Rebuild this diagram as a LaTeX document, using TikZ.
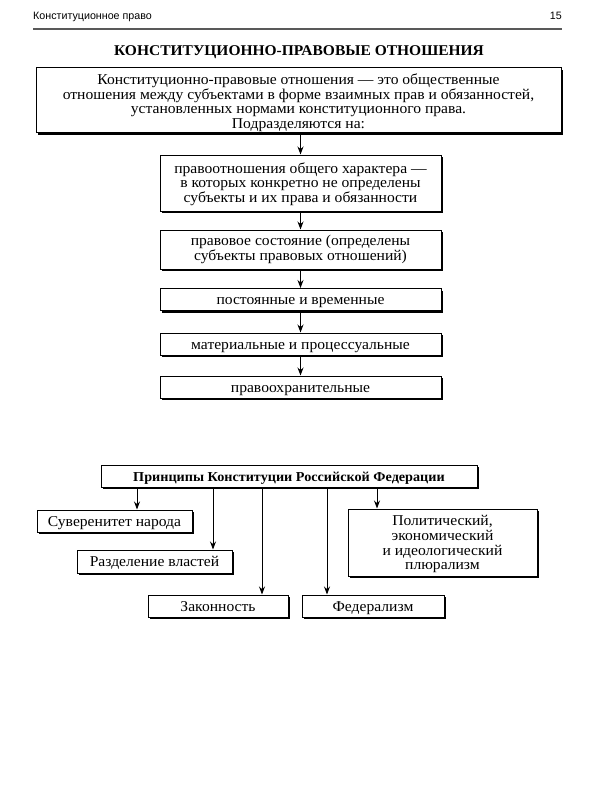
\documentclass[tikz,border=0pt]{standalone}
\usepackage{fontspec}
\setmainfont{Liberation Serif}[FakeStretch=1.04]
\newfontfamily\hdrfont{Liberation Sans}
\usetikzlibrary{arrows.meta,shadows}
\newcommand{\lines}[2]{\begin{tabular}{@{}c@{}}\rule{0pt}{#1}#2\end{tabular}}
\begin{document}
\begin{tikzpicture}[x=1pt,y=-1pt,
  box/.style={draw=black, line width=1pt, fill=white, inner sep=0pt, align=center,
    drop shadow={shadow xshift=2.2pt, shadow yshift=-2.2pt, opacity=1, fill=black},
    font=\fontsize{15}{14.5}\selectfont},
  one/.style={text height=10.5pt, text depth=0pt},
  arr/.style={-{Stealth[length=8pt,width=6pt]}, line width=1pt},
]
\useasboundingbox (0,0) rectangle (600,800);
\fill[white] (0,0) rectangle (600,800);
% header
\node[anchor=base west, inner sep=0pt, font=\hdrfont\fontsize{10.7}{12}\selectfont] (hdr) at (33,20) {Конституционное право};
\node[anchor=base east, inner sep=0pt, font=\hdrfont\fontsize{10.7}{12}\selectfont] (pg) at (562,20) {15};
\draw[line width=1.5pt, black!65] (33,29) -- (562,29);
\node[anchor=base, inner sep=0pt, font=\bfseries\fontsize{14.9}{16}\selectfont] (title) at (299,55.5) {КОНСТИТУЦИОННО-ПРАВОВЫЕ ОТНОШЕНИЯ};
% top chain
\node[box, minimum width=525pt, minimum height=64pt] (main) at (298.5,100)
  {\lines{16.5pt}{Конституционно-правовые отношения — это общественные\\
   отношения между субъектами в форме взаимных прав и обязанностей,\\
   установленных нормами конституционного права.\\
   Подразделяются на:}};
\node[box, minimum width=281pt, minimum height=56pt] (b1) at (300.5,183)
  {\lines{14.35pt}{правоотношения общего характера —\\ в которых конкретно не определены\\ субъекты и их права и обязанности}};
\node[box, minimum width=281pt, minimum height=39pt] (b2) at (300.5,249.5)
  {\lines{11.85pt}{правовое состояние (определены\\ субъекты правовых отношений)}};
\node[box, one, minimum width=281pt, minimum height=22pt] (b3) at (300.5,299.5)
  {постоянные и временные};
\node[box, one, minimum width=281pt, minimum height=22pt] (b4) at (300.5,344)
  {материальные и процессуальные};
\node[box, one, minimum width=281pt, minimum height=22pt] (b5) at (300.5,387)
  {правоохранительные};
\draw[arr] (b1.north |- main.south) -- (b1.north);
\draw[arr] (b1.south) -- (b2.north);
\draw[arr] (b2.south) -- (b3.north);
\draw[arr] (b3.south) -- (b4.north);
\draw[arr] (b4.south) -- (b5.north);
% principles
\node[box, one, minimum width=376pt, minimum height=22pt, font=\bfseries\fontsize{13.65}{15}\selectfont] (P) at (289,476)
  {Принципы Конституции Российской Федерации};
\node[box, one, minimum width=155pt, minimum height=22pt] (s1) at (114.5,521) {Суверенитет народа};
\node[box, one, minimum width=155pt, minimum height=23pt] (s2) at (154.5,561.5) {Разделение властей};
\node[box, one, minimum width=140pt, minimum height=22pt] (s3) at (218,606) {Законность};
\node[box, one, minimum width=142pt, minimum height=22pt] (s4) at (373,606) {Федерализм};
\node[box, minimum width=189pt, minimum height=67pt] (s5) at (442.5,542.5)
  {\lines{14.85pt}{Политический,\\ экономический\\ и идеологический\\ плюрализм}};
\coordinate (x1) at (137,0);
\coordinate (x2) at (213,0);
\coordinate (x3) at (262,0);
\coordinate (x4) at (327,0);
\coordinate (x5) at (377,0);
\draw[arr] (x1 |- P.south) -- (x1 |- s1.north);
\draw[arr] (x2 |- P.south) -- (x2 |- s2.north);
\draw[arr] (x3 |- P.south) -- (x3 |- s3.north);
\draw[arr] (x4 |- P.south) -- (x4 |- s4.north);
\draw[arr] (x5 |- P.south) -- (x5 |- s5.north);
\end{tikzpicture}
\end{document}
